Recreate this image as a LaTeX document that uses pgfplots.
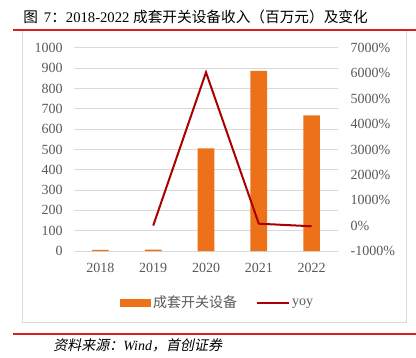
\documentclass[border=0pt]{standalone}
\usepackage{fontspec}
\setmainfont{Liberation Serif}
\newfontfamily\cjk{Noto Sans CJK SC}
\newfontfamily\cjkit{Noto Sans CJK SC}[FakeSlant=0.2]
\usepackage{pgfplots}
\pgfplotsset{compat=1.18}
\definecolor{barorange}{RGB}{237,113,24}
\definecolor{yoyred}{RGB}{170,0,0}
\definecolor{rulered}{RGB}{218,30,30}
\definecolor{gridgray}{RGB}{217,217,217}
\definecolor{labgray}{RGB}{89,89,89}
\begin{document}
\begin{tikzpicture}[x=0.75pt,y=0.75pt]
\path[use as bounding box] (0,0) rectangle (416,357);
% title
\node[anchor=west,inner sep=0pt,font=\fontsize{11}{13}\selectfont] at (23,340) {{\cjk 图}\hspace{4.5pt}7{\cjk ：}2018-2022 {\cjk 成套开关设备收入（百万元）及变化}};
\draw[rulered,line width=1.3pt] (13,327) -- (416,327);
\draw[gridgray,line width=0.75pt] (22,326) -- (22,35) -- (406,35) -- (406,326);
\draw[rulered,line width=1.3pt] (13,23) -- (416,23);
\node[anchor=west,inner sep=0pt,font=\fontsize{10.5}{12}\selectfont\itshape] at (53,12) {{\cjkit 资料来源：}Wind{\cjkit ，首创证券}};
\begin{axis}[
  at={(55.5pt,79.5pt)}, anchor=south west,
  scale only axis, width=198pt, height=152.25pt,
  xmin=-0.5, xmax=4.5, ymin=0, ymax=1000,
  xtick={0,1,2,3,4}, xticklabels={2018,2019,2020,2021,2022},
  ytick={0,100,...,1000},
  axis line style={draw=none},
  ymajorgrids, grid style={gridgray,line width=0.75pt},
  major tick length=0pt,
  tick label style={font=\fontsize{10.5}{12}\selectfont, text=labgray},
  /pgf/number format/assume math mode=true,
  /pgf/number format/1000 sep={},
  yticklabel style={xshift=-5pt},
  xticklabel style={yshift=-5.5pt},
  ybar, bar width=12.5pt,
]
\addplot[fill=barorange, draw=none] coordinates {(0,6) (1,7) (2,505) (3,887) (4,668)};
\end{axis}
\begin{axis}[
  at={(55.5pt,79.5pt)}, anchor=south west,
  scale only axis, width=198pt, height=152.25pt,
  xmin=-0.5, xmax=4.5, ymin=-1000, ymax=7000,
  axis y line*=right, axis x line=none,
  ytick={-1000,0,...,7000},
  yticklabel={\pgfmathprintnumber{\tick}\%},
  axis line style={draw=none},
  major tick length=0pt,
  tick label style={font=\fontsize{10.5}{12}\selectfont, text=labgray},
  /pgf/number format/assume math mode=true,
  /pgf/number format/1000 sep={},
  yticklabel style={xshift=6pt},
  legend columns=2,
  legend style={at={(0.545,-0.256)}, anchor=center, draw=none, fill=none,
    font=\fontsize{10.5}{12}\selectfont, text=labgray,
    /tikz/every even column/.append style={column sep=12pt}},
]
\addlegendimage{legend image code/.code={\fill[barorange] (0pt,-2.6pt) rectangle (22.5pt,2.6pt);}}
\addlegendentry{\cjk 成套开关设备}
\addplot[yoyred, line width=1.5pt, legend image code/.code={\draw[yoyred,line width=1.3pt] (0pt,0pt) -- (24pt,0pt);}] coordinates {(1,0) (2,6040) (3,76) (4,-25)};
\addlegendentry{yoy}
\end{axis}
\end{tikzpicture}
\end{document}
